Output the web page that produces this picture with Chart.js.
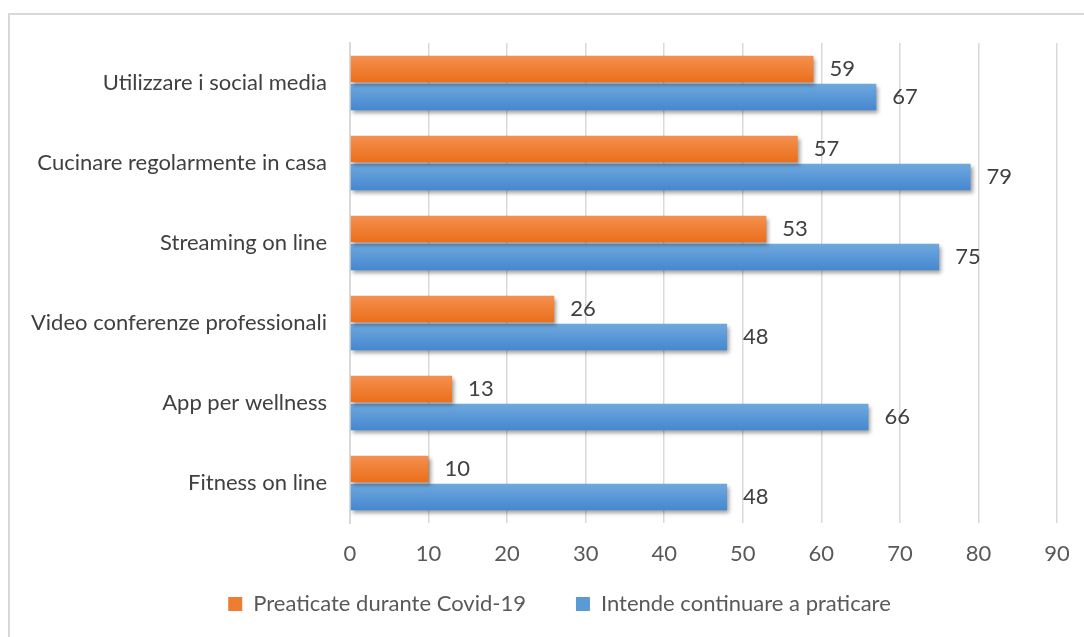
<!DOCTYPE html>
<html>
<head>
<meta charset="utf-8">
<script src="https://cdn.jsdelivr.net/npm/chart.js@4/dist/chart.umd.min.js"></script>
<style>
  html, body { margin: 0; padding: 0; background: #fff; }
  #wrap { position: relative; width: 1084px; height: 637px; }
  #frame { position: absolute; left: 8px; top: 13px; right: -10px; bottom: -10px;
           border-left: 2px solid #d9d9d9; border-top: 2px solid #d9d9d9; }
  canvas { position: absolute; left: 0; top: 0; }
</style>
</head>
<body>
<div id="wrap">
  <div id="frame"></div>
  <canvas id="c" width="1084" height="637"></canvas>
</div>
<script>
const categories = [
  'Utilizzare i social media',
  'Cucinare regolarmente in casa',
  'Streaming on line',
  'Video conferenze professionali',
  'App per wellness',
  'Fitness on line'
];
const praticate = [59, 57, 53, 26, 13, 10];
const intende = [67, 79, 75, 48, 66, 48];
const xTicks = [0, 10, 20, 30, 40, 50, 60, 70, 80, 90];

const FONT = 'Lato, "Open Sans", sans-serif';
const FSIZE = 22;
const LEGEND_PAD = 10;
const LEGEND_GAP = 50;
const LEGEND_SHIFT = 31;

// vertical gradient across each bar, Excel-like
function barFill(top, bottom) {
  return function(ctx) {
    const el = ctx.element;
    if (!el || el.y == null || !el.height) return bottom;
    const c = ctx.chart.ctx;
    const g = c.createLinearGradient(0, el.y - el.height / 2, 0, el.y + el.height / 2);
    g.addColorStop(0, top);
    g.addColorStop(1, bottom);
    return g;
  };
}

const shadowPlugin = {
  id: 'barShadow',
  beforeDatasetsDraw(chart) {
    const c = chart.ctx;
    c.save();
    c.shadowColor = 'rgba(0,0,0,0.38)';
    c.shadowBlur = 4;
    c.shadowOffsetX = 2;
    c.shadowOffsetY = 3;
  },
  afterDatasetsDraw(chart) {
    chart.ctx.restore();
  }
};

const valueLabels = {
  id: 'valueLabels',
  afterDatasetsDraw(chart) {
    const c = chart.ctx;
    c.save();
    c.font = FSIZE + 'px ' + FONT;
    c.fillStyle = '#404040';
    c.textBaseline = 'middle';
    c.textAlign = 'left';
    chart.data.datasets.forEach((ds, di) => {
      chart.getDatasetMeta(di).data.forEach((bar, i) => {
        c.fillText(String(ds.data[i]), bar.x + 16, bar.y);
      });
    });
    c.restore();
  }
};

// legend items further apart horizontally without making the legend box taller
const legendGap = {
  id: 'legendGap',
  beforeDraw(chart) {
    const lg = chart.legend;
    if (!lg || !lg.lineWidths) return;
    const extra = LEGEND_GAP - LEGEND_PAD;
    this._saved = { top: lg.top, lw: lg.lineWidths[0] };
    lg.options.labels.padding = LEGEND_GAP;
    lg.top -= extra;
    lg.lineWidths[0] += extra * lg.legendItems.length - 2 * LEGEND_SHIFT;
  },
  afterDraw(chart) {
    const lg = chart.legend;
    if (!lg || !this._saved) return;
    lg.options.labels.padding = LEGEND_PAD;
    lg.top = this._saved.top;
    lg.lineWidths[0] = this._saved.lw;
  }
};

const chart = new Chart(document.getElementById('c'), {
  type: 'bar',
  data: {
    labels: categories,
    datasets: [
      {
        label: 'Preaticate durante Covid-19',
        data: praticate,
        backgroundColor: barFill('#f4904f', '#ea6f1c'),
        solid: '#ed7d31'
      },
      {
        label: 'Intende continuare a praticare',
        data: intende,
        backgroundColor: barFill('#6fa8de', '#4588cf'),
        solid: '#5b9bd5'
      }
    ]
  },
  options: {
    indexAxis: 'y',
    responsive: false,
    animation: false,
    devicePixelRatio: 1,
    datasets: { bar: { categoryPercentage: 0.7, barPercentage: 0.94 } },
    layout: { padding: { top: 43, right: 27, left: 0, bottom: 12 } },
    scales: {
      x: {
        min: 0, max: 90,
        afterBuildTicks(scale) { scale.ticks = xTicks.map(v => ({ value: v })); },
        afterFit(scale) {
          scale.height = 60;
          scale.paddingLeft = 0;
          scale.paddingRight = 0;
        },
        grid: { color: '#d9d9d9', lineWidth: 1.5, drawTicks: false },
        border: { display: false },
        ticks: { color: '#595959', font: { family: FONT, size: FSIZE }, padding: 18 }
      },
      y: {
        afterFit(scale) { scale.width = 350; },
        grid: { display: false, drawTicks: false },
        border: { display: true, color: '#d9d9d9', width: 2 },
        ticks: { color: '#404040', font: { family: FONT, size: FSIZE }, padding: 23 }
      }
    },
    plugins: {
      tooltip: { enabled: false },
      legend: {
        position: 'bottom',
        labels: {
          color: '#595959',
          font: { family: FONT, size: FSIZE },
          boxWidth: 14, boxHeight: 14, padding: LEGEND_PAD,
          generateLabels(ch) {
            return ch.data.datasets.map((ds, i) => ({
              text: ds.label, fillStyle: ds.solid, strokeStyle: ds.solid,
              lineWidth: 0, hidden: false, datasetIndex: i, fontColor: '#595959'
            }));
          }
        }
      }
    }
  },
  plugins: [shadowPlugin, valueLabels, legendGap]
});
// second pass so gradients can read the laid-out bar geometry
chart.update('none');
</script>
</body>
</html>
